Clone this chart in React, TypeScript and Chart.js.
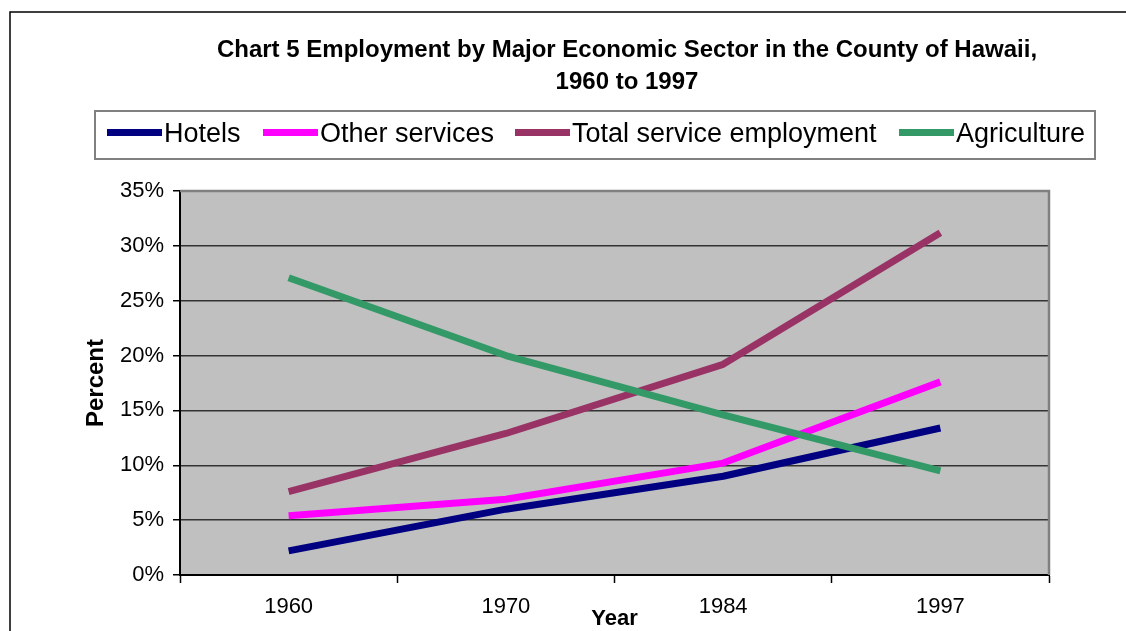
import React, { useEffect, useRef } from "react";
import { Chart, registerables } from "chart.js";

Chart.register(...registerables);

const years = ["1960", "1970", "1984", "1997"];
const hotels = [2.2, 6.0, 9.0, 13.4];
const otherServices = [5.4, 6.9, 10.2, 17.6];
const totalService = [7.6, 12.9, 19.2, 31.2];
const agriculture = [27.1, 20.0, 14.6, 9.5];

const seriesNames = ["Hotels", "Other services", "Total service employment", "Agriculture"];
const seriesColors = ["#000080", "#FF00FF", "#993366", "#339966"];
const titleLines = [
  "Chart 5 Employment by Major Economic Sector in the County of Hawaii,",
  "1960 to 1997",
];
const yAxisTitle = "Percent";
const xAxisTitle = "Year";

const FONT = "Arial, 'Liberation Sans', sans-serif";

const decorPlugin = {
  id: "decor",
  beforeDraw(chart: any) {
    const { ctx, chartArea } = chart;
    ctx.save();
    ctx.fillStyle = "#ffffff";
    ctx.fillRect(0, 0, chart.width, chart.height);
    // outer frame
    ctx.strokeStyle = "#000000";
    ctx.lineWidth = 1.5;
    ctx.beginPath();
    ctx.moveTo(10, chart.height + 5);
    ctx.lineTo(10, 12);
    ctx.lineTo(chart.width + 5, 12);
    ctx.stroke();
    // plot background
    ctx.fillStyle = "#C0C0C0";
    ctx.fillRect(chartArea.left, chartArea.top, chartArea.right - chartArea.left, chartArea.bottom - chartArea.top);
    ctx.restore();
  },
  afterDraw(chart: any) {
    const { ctx, chartArea } = chart;
    ctx.save();
    // plot top/right border
    ctx.strokeStyle = "#808080";
    ctx.lineWidth = 2.5;
    ctx.beginPath();
    ctx.moveTo(chartArea.left, chartArea.top);
    ctx.lineTo(chartArea.right, chartArea.top);
    ctx.lineTo(chartArea.right, chartArea.bottom);
    ctx.stroke();

    // title
    ctx.fillStyle = "#000000";
    ctx.font = `bold 24px ${FONT}`;
    ctx.textAlign = "center";
    ctx.textBaseline = "alphabetic";
    ctx.fillText(titleLines[0], 627, 57);
    ctx.fillText(titleLines[1], 627, 89);

    // legend box
    ctx.strokeStyle = "#808080";
    ctx.lineWidth = 2;
    ctx.strokeRect(95, 111, 1000, 48);
    const lineStarts = [107, 263, 515, 899];
    ctx.font = `27px ${FONT}`;
    ctx.textAlign = "left";
    ctx.textBaseline = "middle";
    for (let i = 0; i < seriesNames.length; i++) {
      ctx.strokeStyle = seriesColors[i];
      ctx.lineWidth = 7;
      ctx.lineCap = "butt";
      ctx.beginPath();
      ctx.moveTo(lineStarts[i], 132.5);
      ctx.lineTo(lineStarts[i] + 55, 132.5);
      ctx.stroke();
      ctx.fillStyle = "#000000";
      ctx.fillText(seriesNames[i], lineStarts[i] + 57, 135);
    }

    // axis titles
    ctx.font = `bold 22px ${FONT}`;
    ctx.textAlign = "center";
    ctx.textBaseline = "alphabetic";
    ctx.fillText(xAxisTitle, (chartArea.left + chartArea.right) / 2, 625);
    ctx.save();
    ctx.translate(103, (chartArea.top + chartArea.bottom) / 2);
    ctx.rotate(-Math.PI / 2);
    ctx.font = `bold 24px ${FONT}`;
    ctx.fillText(yAxisTitle, 0, 0);
    ctx.restore();
    ctx.restore();
  },
};

export default function App() {
  const canvasRef = useRef<HTMLCanvasElement | null>(null);

  useEffect(() => {
    const canvas = canvasRef.current;
    if (!canvas) return;
    const mk = (i: number, data: number[], order: number) => ({
      label: seriesNames[i],
      data,
      borderColor: seriesColors[i],
      backgroundColor: seriesColors[i],
      borderWidth: 7,
      borderCapStyle: "butt" as const,
      borderJoinStyle: "round" as const,
      pointRadius: 0,
      pointHoverRadius: 0,
      tension: 0,
      order,
    });
    const chart = new Chart(canvas, {
      type: "line",
      data: {
        labels: years,
        datasets: [
          mk(0, hotels, 3),
          mk(1, otherServices, 2),
          mk(2, totalService, 1),
          mk(3, agriculture, 0),
        ],
      },
      options: {
        animation: false,
        responsive: false,
        devicePixelRatio: 1,
        layout: { padding: { left: 80, right: 77, top: 191, bottom: 0 } },
        plugins: {
          legend: { display: false },
          title: { display: false },
          tooltip: { enabled: false },
        },
        scales: {
          x: {
            type: "category",
            offset: true,
            afterFit(scale: any) {
              scale.height = 56;
            },
            grid: {
              offset: true,
              drawOnChartArea: false,
              drawTicks: true,
              tickLength: 8,
              tickColor: "#000000",
              tickWidth: 1.5,
            },
            border: { display: true, color: "#000000", width: 2 },
            ticks: {
              color: "#000000",
              font: { family: FONT, size: 22 },
              padding: 11,
              maxRotation: 0,
            },
          },
          y: {
            min: 0,
            max: 35,
            afterFit(scale: any) {
              scale.width = 100;
            },
            grid: {
              color: "#333333",
              lineWidth: 1.5,
              tickLength: 7,
              tickColor: "#000000",
            },
            border: { display: true, color: "#000000", width: 2 },
            ticks: {
              stepSize: 5,
              color: "#000000",
              font: { family: FONT, size: 22 },
              padding: 9,
              callback: (v: any) => `${v}%`,
            },
          },
        },
      },
      plugins: [decorPlugin],
    });
    return () => chart.destroy();
  }, []);

  return (
    <div style={{ position: "fixed", left: 0, top: 0, width: 1126, height: 631, background: "#fff" }}>
      <canvas ref={canvasRef} width={1126} height={631} style={{ display: "block" }} />
    </div>
  );
}
